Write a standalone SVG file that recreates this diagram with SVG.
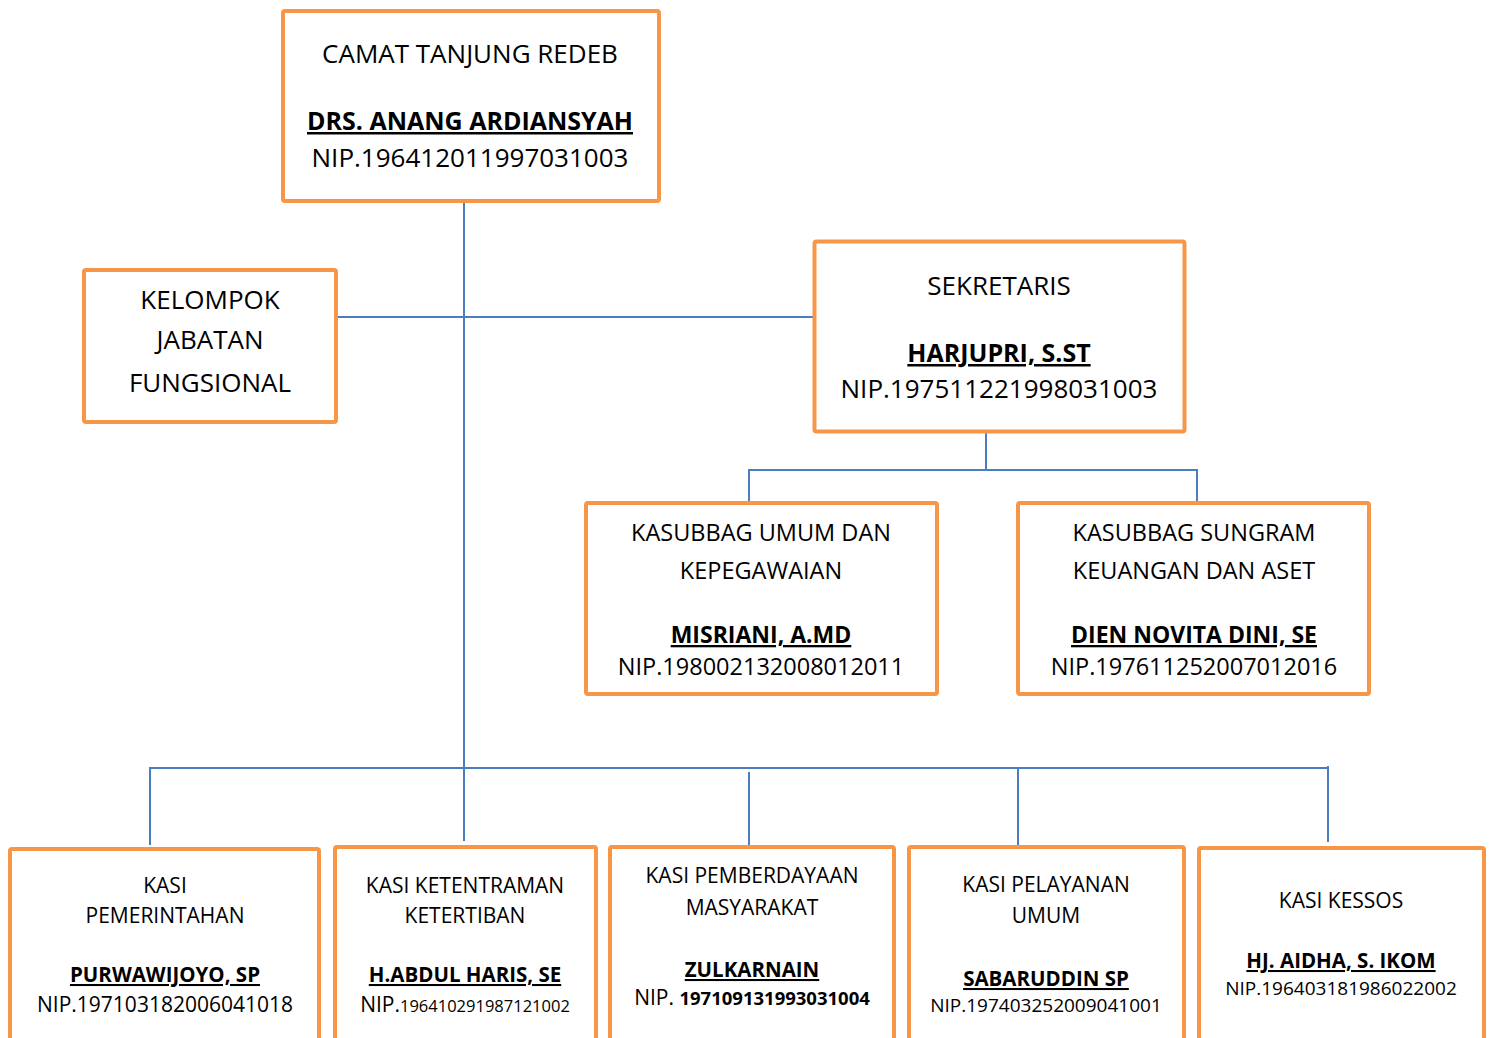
<svg xmlns="http://www.w3.org/2000/svg" width="1489" height="1038" viewBox="0 0 1489 1038">
<style>
.box{fill:#fff;stroke:#F79646;stroke-width:4}
.ln{fill:none;stroke:#4A7EBF;stroke-width:2}
text{font-family:"Open Sans","Noto Sans","Liberation Sans",sans-serif;fill:#000;text-anchor:middle}
.l{font-size:26px}
.m{font-size:23.5px}
.s{font-size:21px}
.l.b{font-size:25px}
.m.b{font-size:23px}
.s.b{font-size:20.5px}
.b{font-weight:bold;text-decoration:underline}
</style>
<rect width="1489" height="1038" fill="#fff"/>
<g id="connectors">
<path class="ln" d="M464 203V841"/>
<path class="ln" d="M337 317H813"/>
<path class="ln" d="M986 433V470M749 470H1197M749 469V502M1197 469V502"/>
<path class="ln" d="M150 768H1328M150 767V845M749 772V846M1018 768V845M1328 766V842"/>
</g>
<g id="camat">
<rect class="box" x="283" y="11" width="376" height="190" rx="2"/>
<text class="l" x="470" y="63">CAMAT TANJUNG REDEB</text>
<text class="l b" x="470" y="130">DRS. ANANG ARDIANSYAH</text>
<text class="l" x="470" y="167">NIP.196412011997031003</text>
</g>
<g id="kelompok">
<rect class="box" x="84" y="270" width="252" height="152" rx="2"/>
<text class="l" x="210" y="309">KELOMPOK</text>
<text class="l" x="210" y="349">JABATAN</text>
<text class="l" x="210" y="392">FUNGSIONAL</text>
</g>
<g id="sekretaris">
<rect class="box" x="814.5" y="241.5" width="370" height="190" rx="2"/>
<text class="l" x="999" y="295">SEKRETARIS</text>
<text class="l b" x="999" y="362">HARJUPRI, S.ST</text>
<text class="l" x="999" y="398">NIP.197511221998031003</text>
</g>
<g id="kasubbag-umum">
<rect class="box" x="586" y="503" width="351" height="191" rx="2"/>
<text class="m" x="761" y="541">KASUBBAG UMUM DAN</text>
<text class="m" x="761" y="579">KEPEGAWAIAN</text>
<text class="m b" x="761" y="643">MISRIANI, A.MD</text>
<text class="m" x="761" y="675">NIP.198002132008012011</text>
</g>
<g id="kasubbag-sungram">
<rect class="box" x="1018" y="503" width="351" height="191" rx="2"/>
<text class="m" x="1194" y="541">KASUBBAG SUNGRAM</text>
<text class="m" x="1194" y="579">KEUANGAN DAN ASET</text>
<text class="m b" x="1194" y="643">DIEN NOVITA DINI, SE</text>
<text class="m" x="1194" y="675">NIP.197611252007012016</text>
</g>
<g id="kasi-pemerintahan">
<rect class="box" x="10" y="849" width="309" height="200" rx="2"/>
<text class="s" x="165" y="893">KASI</text>
<text class="s" x="165" y="923">PEMERINTAHAN</text>
<text class="s b" x="165" y="982">PURWAWIJOYO, SP</text>
<text class="s" x="165" y="1012">NIP.197103182006041018</text>
</g>
<g id="kasi-ketentraman">
<rect class="box" x="335" y="847" width="261" height="200" rx="2"/>
<text class="s" x="465" y="893">KASI KETENTRAMAN</text>
<text class="s" x="465" y="923">KETERTIBAN</text>
<text class="s b" x="465" y="982">H.ABDUL HARIS, SE</text>
<text class="s" x="465" y="1012">NIP.<tspan font-size="16.5px">196410291987121002</tspan></text>
</g>
<g id="kasi-pemberdayaan">
<rect class="box" x="610" y="847" width="284" height="200" rx="2"/>
<text class="s" x="752" y="883">KASI PEMBERDAYAAN</text>
<text class="s" x="752" y="915">MASYARAKAT</text>
<text class="s b" x="752" y="977">ZULKARNAIN</text>
<text class="s" x="752" y="1005">NIP. <tspan font-weight="bold" font-size="18.5px">197109131993031004</tspan></text>
</g>
<g id="kasi-pelayanan">
<rect class="box" x="909" y="847" width="275" height="200" rx="2"/>
<text class="s" x="1046" y="892">KASI PELAYANAN</text>
<text class="s" x="1046" y="923">UMUM</text>
<text class="s b" x="1046" y="986">SABARUDDIN SP</text>
<text x="1046" y="1012" font-size="19px">NIP.197403252009041001</text>
</g>
<g id="kasi-kessos">
<rect class="box" x="1199" y="848" width="285" height="200" rx="2"/>
<text class="s" x="1341" y="908">KASI KESSOS</text>
<text class="s b" x="1341" y="968">HJ. AIDHA, S. IKOM</text>
<text x="1341" y="995" font-size="19px">NIP.196403181986022002</text>
</g>
</svg>
